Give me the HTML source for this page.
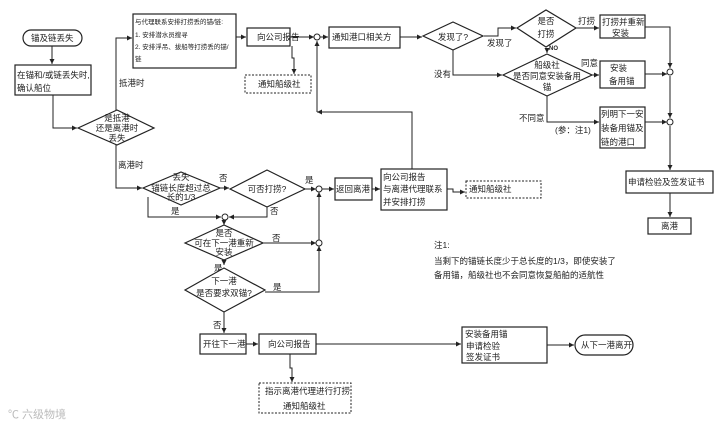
<!DOCTYPE html>
<html><head><meta charset="utf-8"><style>
html,body{margin:0;padding:0;background:#fff;}
svg{display:block;font-family:"Liberation Sans","Noto Sans CJK SC",sans-serif;}
text{font-size:8.5px;fill:#222;}
.b{fill:#fff;stroke:#222;stroke-width:1.2;}
.d{fill:#fff;stroke:#222;stroke-width:1;stroke-dasharray:2,1.5;}
.l{fill:none;stroke:#222;stroke-width:1;}
</style></head><body>
<svg width="728" height="428" viewBox="0 0 728 428">
<defs><marker id="a" markerWidth="6" markerHeight="6" refX="5" refY="3" orient="auto"><path d="M0,0.5 L5,3 L0,5.5z" fill="#222"/></marker></defs>
<g class="l" marker-end="url(#a)">
<path d="M52,46 V64"/>
<path d="M53,95 V128 H77"/>
<path d="M116,110 V38 H132"/>
<path d="M236,37 H246"/>
<path d="M290,37 H314"/>
<path d="M292,46 V58 H294 V74"/>
<path d="M320,37 H328"/>
<path d="M400,37 H422"/>
<path d="M484,36 H498 V28 H516"/>
<path d="M453,50 V75 H502"/>
<path d="M576,28 H599"/>
<path d="M547,48 V53"/>
<path d="M592,75 H599"/>
<path d="M547,96 V122 H599"/>
<path d="M645,27 H670 V68"/>
<path d="M645,74 H667"/>
<path d="M645,122 H667"/>
<path d="M670,76 V118"/>
<path d="M670,126 V170"/>
<path d="M670,193 V217"/>
<path d="M317,112 V41"/>
<path d="M412,169 V112 H317"/>
<path d="M116,145 V188 H142"/>
<path d="M220,188 H229"/>
<path d="M305,189 H316"/>
<path d="M322,189 H334"/>
<path d="M372,189 H380"/>
<path d="M447,189 H453 V192 H465"/>
<path d="M148,197 V217 H221"/>
<path d="M267,205 V217 H229"/>
<path d="M224,221 V225"/>
<path d="M263,243 H316"/>
<path d="M265,292 H319 V246"/>
<path d="M319,240 V192"/>
<path d="M224,260 V265"/>
<path d="M224,312 V333"/>
<path d="M246,344 H258"/>
<path d="M316,344 H461"/>
<path d="M290,354 V368 H292 V382"/>
<path d="M547,345 H574"/>
</g>
<g fill="#fff" stroke="#222" stroke-width="1">
<circle cx="317" cy="37" r="3"/><circle cx="319" cy="189" r="3"/><circle cx="225" cy="217" r="3"/>
<circle cx="319" cy="243" r="3"/><circle cx="670" cy="72" r="3"/><circle cx="670" cy="122" r="3"/>
</g>
<rect class="b" x="23" y="30" width="59" height="16" rx="8"/>
<text x="31" y="41">锚及链丢失</text>
<rect class="b" x="15" y="65" width="76" height="30"/>
<text x="17" y="78">在锚和/或链丢失时,</text><text x="17" y="91">确认船位</text>
<polygon class="b" points="78,128 117,110 154,128 117,145"/>
<text x="117" y="121" text-anchor="middle">是抵港</text><text x="117" y="131" text-anchor="middle">还是离港时</text><text x="117" y="141" text-anchor="middle">丢失</text>
<text x="119" y="86">抵港时</text><text x="118" y="168">离港时</text>
<rect class="b" x="133" y="14" width="103" height="54"/>
<text x="135" y="24" style="font-size:6.5px">与代理联系安排打捞丢的锚/链:</text>
<text x="135" y="37" style="font-size:6.5px">1. 安排潜水员搜寻</text>
<text x="135" y="49" style="font-size:6.5px">2. 安排浮吊、拔船等打捞丢的锚/</text>
<text x="135" y="61" style="font-size:6.5px">链</text>
<rect class="b" x="247" y="28" width="43" height="18"/><text x="257" y="40">向公司报告</text>
<rect class="d" x="245" y="75" width="66" height="18"/><text x="258" y="87">通知船级社</text>
<rect class="b" x="329" y="27" width="71" height="21"/><text x="332" y="40">通知港口相关方</text>
<polygon class="b" points="423,36 453,22 483,36 453,50"/><text x="453" y="40" text-anchor="middle">发现了?</text>
<text x="487" y="46">发现了</text><text x="434" y="77">没有</text>
<polygon class="b" points="517,28 546,10 576,28 546,47"/><text x="546" y="24" text-anchor="middle">是否</text><text x="546" y="37" text-anchor="middle">打捞</text>
<text x="578" y="24">打捞</text><text x="549" y="50" style="font-size:6px;font-weight:bold">NO</text>
<rect class="b" x="600" y="15" width="45" height="23"/><text x="602" y="25">打捞并重新</text><text x="612" y="36">安装</text>
<polygon class="b" points="503,75 547,54 592,75 547,96"/>
<text x="547" y="68" text-anchor="middle">船级社</text><text x="547" y="79" text-anchor="middle">是否同意安装备用</text><text x="547" y="90" text-anchor="middle">锚</text>
<text x="581" y="66">同意</text>
<rect class="b" x="600" y="61" width="45" height="27"/><text x="610" y="71">安装</text><text x="609" y="84">备用锚</text>
<text x="519" y="121">不同意</text><text x="555" y="133">(参：注1)</text>
<rect class="b" x="600" y="107" width="45" height="41"/><text x="601" y="117">列明下一安</text><text x="601" y="131">装备用锚及</text><text x="601" y="145">链的港口</text>
<rect class="b" x="626" y="171" width="87" height="22"/><text x="628" y="185">申请检验及签发证书</text>
<rect class="b" x="648" y="218" width="43" height="16"/><text x="661" y="229">离港</text>
<polygon class="b" points="143,188 181,172 220,188 181,205"/>
<text x="181" y="180" text-anchor="middle">丢失</text><text x="181" y="191" text-anchor="middle">锚链长度超过总</text><text x="181" y="200" text-anchor="middle">长的1/3</text>
<text x="219" y="181">否</text>
<polygon class="b" points="230,189 267,170 305,189 267,207"/><text x="267" y="192" text-anchor="middle">可否打捞?</text>
<text x="305" y="183">是</text><text x="171" y="214">是</text><text x="270" y="214">否</text>
<rect class="b" x="335" y="178" width="37" height="22"/><text x="336" y="192">返回离港</text>
<rect class="b" x="381" y="169" width="66" height="41"/><text x="383" y="180">向公司报告</text><text x="383" y="192">与离港代理联系</text><text x="383" y="205">并安排打捞</text>
<rect class="d" x="466" y="181" width="75" height="17"/><text x="469" y="192">通知船级社</text>
<polygon class="b" points="185,243 224,225 263,243 224,260"/>
<text x="224" y="236" text-anchor="middle">是否</text><text x="224" y="246" text-anchor="middle">可在下一港重新</text><text x="224" y="255" text-anchor="middle">安装</text>
<text x="272" y="241">否</text><text x="214" y="271">是</text>
<polygon class="b" points="185,290 224,268 265,290 224,312"/>
<text x="224" y="284" text-anchor="middle">下一港</text><text x="224" y="296" text-anchor="middle">是否要求双锚?</text>
<text x="273" y="290">是</text><text x="213" y="328">否</text>
<rect class="b" x="200" y="334" width="46" height="20"/><text x="203" y="347">开往下一港</text>
<rect class="b" x="259" y="334" width="57" height="20"/><text x="268" y="347">向公司报告</text>
<rect class="d" x="259" y="383" width="92" height="30"/><text x="265" y="394">指示离港代理进行打捞</text><text x="283" y="409">通知船级社</text>
<rect class="b" x="462" y="327" width="85" height="36"/><text x="465" y="337">安装备用锚</text><text x="466" y="349">申请检验</text><text x="466" y="360">签发证书</text>
<rect class="b" x="575" y="335" width="58" height="20" rx="10"/><text x="581" y="348">从下一港离开</text>
<text x="434" y="248">注1:</text>
<text x="434" y="264">当剩下的锚链长度少于总长度的1/3，即使安装了</text>
<text x="434" y="278">备用锚，船级社也不会同意恢复船舶的适航性</text>
<text x="8" y="418" style="font-size:11px;fill:#bbb">℃ 六级物境</text>
</svg>
</body></html>
